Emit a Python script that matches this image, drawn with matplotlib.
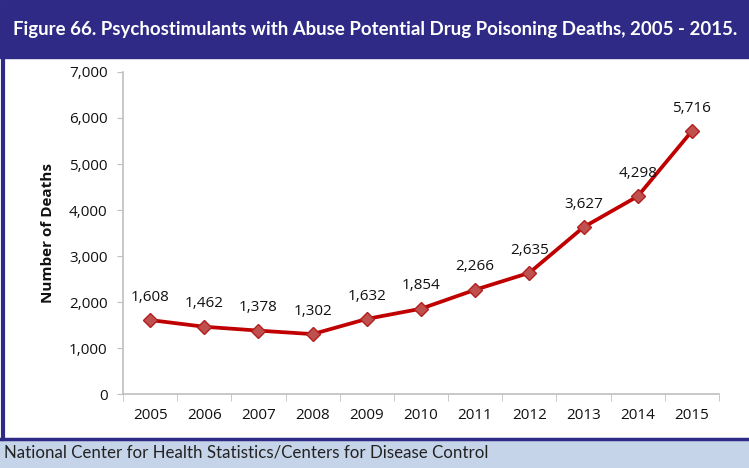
import matplotlib.pyplot as plt
from matplotlib.patches import Rectangle
from matplotlib.lines import Line2D

years = ["2005", "2006", "2007", "2008", "2009", "2010", "2011", "2012", "2013", "2014", "2015"]
deaths = [1608, 1462, 1378, 1302, 1632, 1854, 2266, 2635, 3627, 4298, 5716]
y_ticks = [0, 1000, 2000, 3000, 4000, 5000, 6000, 7000]

navy = "#2E2A86"
plt.rcParams["font.family"] = ["Open Sans", "DejaVu Sans"]

fig = plt.figure(figsize=(7.49, 4.68), dpi=100)
W, H = 749, 468

def fx(px):
    return px / W

def fy(py):
    return 1 - py / H

# title band, footer band, frame lines
fig.patches.append(Rectangle((0, fy(58)), 1, 58 / H, transform=fig.transFigure, color=navy, zorder=0))
fig.patches.append(Rectangle((0, 0), 1, fy(439), transform=fig.transFigure, color="#C6D4E9", zorder=0))
fig.lines.append(Line2D([fx(3.5), fx(3.5)], [fy(58), fy(439)], transform=fig.transFigure, color=navy, lw=3))
fig.lines.append(Line2D([0, 1], [fy(438.5), fy(438.5)], transform=fig.transFigure, color=navy, lw=2.5))

fig.text(fx(375), fy(29), "Figure 66. Psychostimulants with Abuse Potential Drug Poisoning Deaths, 2005 - 2015.",
         ha="center", va="center", color="white", fontsize=13.4, fontweight="bold",
         family=["Lato", "DejaVu Sans"])
fig.text(fx(4), fy(453), "National Center for Health Statistics/Centers for Disease Control",
         ha="left", va="center", color="#222222", fontsize=12.2, family=["Lato", "DejaVu Sans"])

ax = fig.add_axes([fx(123), fy(394), fx(719) - fx(123), fy(72) - fy(394)])
x = list(range(len(years)))
ax.plot(x, deaths, color="#C00000", lw=2.7, marker="D", markersize=7,
        markerfacecolor="#C0504D", markeredgecolor="#B02020", zorder=3)
for xi, v in zip(x, deaths):
    ax.annotate(f"{v:,}", (xi, v), xytext=(0, 11), textcoords="offset points",
                ha="center", va="bottom", fontsize=11, color="#111111")

ax.set_xlim(-0.5, len(years) - 0.5)
ax.set_ylim(0, 7000)
ax.set_yticks(y_ticks)
ax.set_yticklabels([f"{t:,}" for t in y_ticks])
ax.set_xticks(x)
ax.set_xticklabels(years)
ax.set_xticks([i - 0.5 for i in range(len(years) + 1)], minor=True)
ax.tick_params(axis="x", which="major", length=0, pad=10, labelsize=11, labelcolor="#111111")
ax.tick_params(axis="x", which="minor", length=5, color="#BFBFBF", direction="out")
ax.tick_params(axis="y", length=4, color="#BFBFBF", labelsize=11, labelcolor="#111111", pad=7)
for s in ["top", "right"]:
    ax.spines[s].set_visible(False)
for s in ["left", "bottom"]:
    ax.spines[s].set_color("#BFBFBF")
    ax.spines[s].set_linewidth(1.2)
ax.set_ylabel("Number of Deaths", fontsize=11, fontweight="bold", color="#111111", labelpad=10)

fig.savefig("out.png", dpi=100)
